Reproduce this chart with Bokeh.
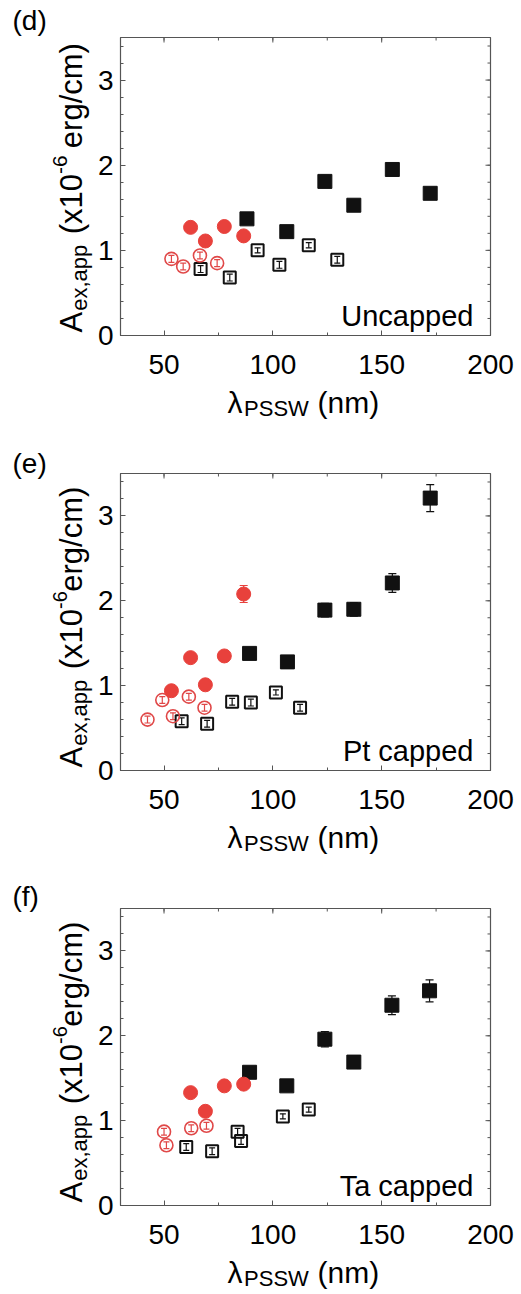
import math
from bokeh.plotting import figure
from bokeh.models import (Label, FixedTicker, Range1d, ColumnDataSource,
                          Whisker, TeeHead)
from bokeh.layouts import column
from bokeh.embed import file_html
from bokeh.resources import INLINE

# ---------------- data ----------------
x_ticks = [50, 100, 150, 200]
x_minor = [50, 75, 100, 125, 150, 175, 200]
y_ticks = [0, 1, 2, 3]
y_minor = [0.2 * i for i in range(18)]

panel_tags = ["(d)", "(e)", "(f)"]
panel_names = ["Uncapped", "Pt capped", "Ta capped"]

# panel (d) Uncapped
d_sq_fill_x = [88.1, 106.4, 123.9, 137.2, 154.9, 172.3]
d_sq_fill_y = [1.37, 1.22, 1.81, 1.53, 1.95, 1.67]
d_sq_fill_e = [0.03, 0.03, 0.07, 0.04, 0.07, 0.05]
d_sq_open_x = [66.8, 80.2, 93.0, 103.0, 116.5, 129.6]
d_sq_open_y = [0.78, 0.68, 1.00, 0.83, 1.06, 0.89]
d_sq_open_e = [0.04, 0.04, 0.03, 0.04, 0.03, 0.04]
d_ci_fill_x = [62.2, 69.0, 77.7, 86.6]
d_ci_fill_y = [1.27, 1.11, 1.28, 1.17]
d_ci_fill_e = [0.03, 0.03, 0.03, 0.03]
d_ci_open_x = [53.4, 58.8, 66.5, 74.4]
d_ci_open_y = [0.90, 0.81, 0.94, 0.85]
d_ci_open_e = [0.04, 0.04, 0.04, 0.04]

# panel (e) Pt capped
e_sq_fill_x = [89.3, 106.7, 123.9, 137.2, 154.9, 172.3]
e_sq_fill_y = [1.38, 1.28, 1.89, 1.90, 2.21, 3.21]
e_sq_fill_e = [0.03, 0.03, 0.08, 0.08, 0.11, 0.16]
e_sq_open_x = [58.1, 69.8, 81.3, 89.9, 101.4, 112.5]
e_sq_open_y = [0.58, 0.55, 0.81, 0.80, 0.92, 0.74]
e_sq_open_e = [0.04, 0.04, 0.04, 0.04, 0.03, 0.04]
e_ci_fill_x = [53.4, 62.2, 69.0, 77.7, 86.6]
e_ci_fill_y = [0.94, 1.33, 1.01, 1.35, 2.08]
e_ci_fill_e = [0.03, 0.03, 0.03, 0.03, 0.10]
e_ci_open_x = [42.4, 49.2, 54.1, 61.4, 68.6]
e_ci_open_y = [0.60, 0.83, 0.64, 0.87, 0.74]
e_ci_open_e = [0.04, 0.04, 0.04, 0.04, 0.04]

# panel (f) Ta capped
f_sq_fill_x = [89.3, 106.4, 123.9, 137.2, 154.7, 172.0]
f_sq_fill_y = [1.57, 1.41, 1.96, 1.69, 2.36, 2.53]
f_sq_fill_e = [0.04, 0.03, 0.09, 0.05, 0.11, 0.13]
f_sq_open_x = [60.2, 72.1, 83.8, 85.4, 104.6, 116.5]
f_sq_open_y = [0.69, 0.64, 0.87, 0.76, 1.05, 1.13]
f_sq_open_e = [0.04, 0.04, 0.04, 0.04, 0.03, 0.03]
f_ci_fill_x = [62.2, 69.0, 77.7, 86.6]
f_ci_fill_y = [1.33, 1.11, 1.41, 1.43]
f_ci_fill_e = [0.03, 0.03, 0.03, 0.03]
f_ci_open_x = [50.0, 51.1, 62.5, 69.5]
f_ci_open_y = [0.87, 0.71, 0.91, 0.94]
f_ci_open_e = [0.04, 0.04, 0.04, 0.04]

panels = [
    (d_sq_fill_x, d_sq_fill_y, d_sq_fill_e, d_sq_open_x, d_sq_open_y, d_sq_open_e,
     d_ci_fill_x, d_ci_fill_y, d_ci_fill_e, d_ci_open_x, d_ci_open_y, d_ci_open_e),
    (e_sq_fill_x, e_sq_fill_y, e_sq_fill_e, e_sq_open_x, e_sq_open_y, e_sq_open_e,
     e_ci_fill_x, e_ci_fill_y, e_ci_fill_e, e_ci_open_x, e_ci_open_y, e_ci_open_e),
    (f_sq_fill_x, f_sq_fill_y, f_sq_fill_e, f_sq_open_x, f_sq_open_y, f_sq_open_e,
     f_ci_fill_x, f_ci_fill_y, f_ci_fill_e, f_ci_open_x, f_ci_open_y, f_ci_open_e),
]

# ---------------- style / layout ----------------
FONT = "Liberation Sans"
RED = "#e8413c"
RED_OPEN = "#e04848"
BLACK = "#111111"
FRAME = "#555555"
NB = "\u00a0"
X0, X1, Y0, Y1 = 30, 200, 0, 3.5
LEFT, RIGHT = 120, 31
geoms = [(433, 37, 98), (435, 40, 98), (426, 40, 89)]  # height, top border, bottom border
tag_top = [4, 14, 12]

# Arial / Liberation Sans advance widths (em)
W = {"A": .667, "e": .556, "x": .5, ",": .278, "a": .556, "p": .556, " ": .278, NB: .278,
     "(": .333, ")": .333, "1": .556, "0": .556, "-": .333, "6": .556, "r": .333,
     "g": .556, "/": .278, "c": .5, "m": .833, "n": .556, "P": .667, "S": .667,
     "W": .944, "λ": .52}


def tw(s, size):
    return sum(W.get(ch, .556) for ch in s) * size


def make_panel(i):
    (sfx, sfy, sfe, sox, soy, soe, cfx, cfy, cfe, cox, coy, coe) = panels[i]
    H, TOP, BOT = geoms[i]
    frame_h = H - TOP - BOT

    p = figure(width=521, height=H, x_range=Range1d(X0, X1), y_range=Range1d(Y0, Y1),
               output_backend="svg", toolbar_location=None,
               min_border_left=LEFT, min_border_right=RIGHT,
               min_border_top=TOP, min_border_bottom=BOT)
    p.grid.visible = False
    p.outline_line_color = FRAME
    p.outline_line_width = 1.2
    p.background_fill_color = "white"
    p.border_fill_color = "white"

    for ax, tk, mn in ((p.xaxis[0], x_ticks, x_minor), (p.yaxis[0], y_ticks, y_minor)):
        ax.ticker = FixedTicker(ticks=tk, minor_ticks=mn)
        ax.axis_line_color = FRAME
        ax.major_tick_line_color = FRAME
        ax.minor_tick_line_color = FRAME
        ax.major_tick_in = 5
        ax.major_tick_out = 0
        ax.minor_tick_in = 3
        ax.minor_tick_out = 0
        ax.major_label_text_font = FONT
        ax.major_label_text_color = "black"
        ax.major_label_text_font_size = "28px"
    p.xaxis[0].major_label_standoff = 19
    p.yaxis[0].major_label_standoff = 7

    # mirrored inward ticks on the top and right frame edges
    ty_maj = (Y1 - Y0) * 5 / frame_h
    ty_min = (Y1 - Y0) * 3 / frame_h
    tx_maj = (X1 - X0) * 5 / (521 - LEFT - RIGHT)
    tx_min = (X1 - X0) * 3 / (521 - LEFT - RIGHT)
    p.segment(x0=x_ticks, y0=[Y1] * len(x_ticks), x1=x_ticks, y1=[Y1 - ty_maj] * len(x_ticks),
              line_color=FRAME, line_width=1)
    p.segment(x0=x_minor, y0=[Y1] * len(x_minor), x1=x_minor, y1=[Y1 - ty_min] * len(x_minor),
              line_color=FRAME, line_width=1)
    p.segment(x0=[X1] * len(y_ticks), y0=y_ticks, x1=[X1 - tx_maj] * len(y_ticks), y1=y_ticks,
              line_color=FRAME, line_width=1)
    p.segment(x0=[X1] * len(y_minor), y0=y_minor, x1=[X1 - tx_min] * len(y_minor), y1=y_minor,
              line_color=FRAME, line_width=1)

    def errbars(xs, ys, es, color, head):
        src = ColumnDataSource(dict(x=xs, lo=[y - e for y, e in zip(ys, es)],
                                    hi=[y + e for y, e in zip(ys, es)]))
        w = Whisker(source=src, base="x", lower="lo", upper="hi", dimension="height",
                    line_color=color, line_width=1.2,
                    lower_head=TeeHead(size=head, line_color=color, line_width=1.2),
                    upper_head=TeeHead(size=head, line_color=color, line_width=1.2))
        p.add_layout(w)

    errbars(sox, soy, soe, BLACK, 6)
    errbars(cox, coy, coe, RED_OPEN, 6)
    errbars(sfx, sfy, sfe, BLACK, 8)
    errbars(cfx, cfy, cfe, RED, 8)

    p.scatter(sox, soy, marker="square", size=12, fill_color=None, line_color=BLACK, line_width=2)
    p.scatter(cox, coy, marker="circle", size=13, fill_color=None, line_color=RED_OPEN, line_width=1.6)
    p.scatter(sfx, sfy, marker="square", size=14, fill_color=BLACK, line_color=BLACK)
    p.scatter(cfx, cfy, marker="circle", size=14, fill_color=RED, line_color=RED)

    def lab(px, py, text, size, place=None, align="left", baseline="alphabetic", angle=0.0):
        L = Label(x=px, y=py, x_units="canvas", y_units="canvas", text=text,
                  text_font=FONT, text_font_size=f"{size}px", text_align=align,
                  text_baseline=baseline, angle=angle, text_color="black")
        if place:
            p.add_layout(L, place)
        else:
            p.add_layout(L)

    # sample name (inside the frame)
    lab(473, TOP + frame_h - 20, panel_names[i], 29, align="right")
    # panel tag
    lab(12, tag_top[i], panel_tags[i], 28, place="left", baseline="top")

    # x-axis label: λ_PSSW (nm)
    XM, XS = 30, 22
    bx = TOP + frame_h + 67
    x_main = "λ" + NB * 9 + "(nm)"
    lab(227, bx, x_main, XM, place="below")
    lab(227 + tw("λ", XM) + 1, bx + 6, "PSSW", XS, place="above")

    # y-axis label: A_ex,app (x10^-6 erg/cm), rotated
    YM, YSUB = 31, 22
    YSUP = 21 if i == 0 else 20
    k2 = 3 if i == 0 else 2
    base = 71
    y_start = TOP + frame_h - 3
    seg1, gap1, seg2, gap2, seg3 = "A", NB * 9, "(x10", NB * k2, "erg/cm)"
    y_main = seg1 + gap1 + seg2 + gap2 + seg3
    lab(base, y_start, y_main, YM, place="left", angle=math.pi / 2)
    sub_pos = y_start - tw(seg1, YM) - 1
    lab(base + 8, sub_pos, "ex,app", YSUB, place="left", angle=math.pi / 2)
    sup_pos = y_start - tw(seg1 + gap1 + seg2, YM)
    lab(base - 12, sup_pos, "-6", YSUP, place="right", angle=math.pi / 2)
    return p


figs = [make_panel(i) for i in range(3)]
layout = column(*figs, spacing=0)
open("out.html", "w").write(file_html(layout, INLINE))
